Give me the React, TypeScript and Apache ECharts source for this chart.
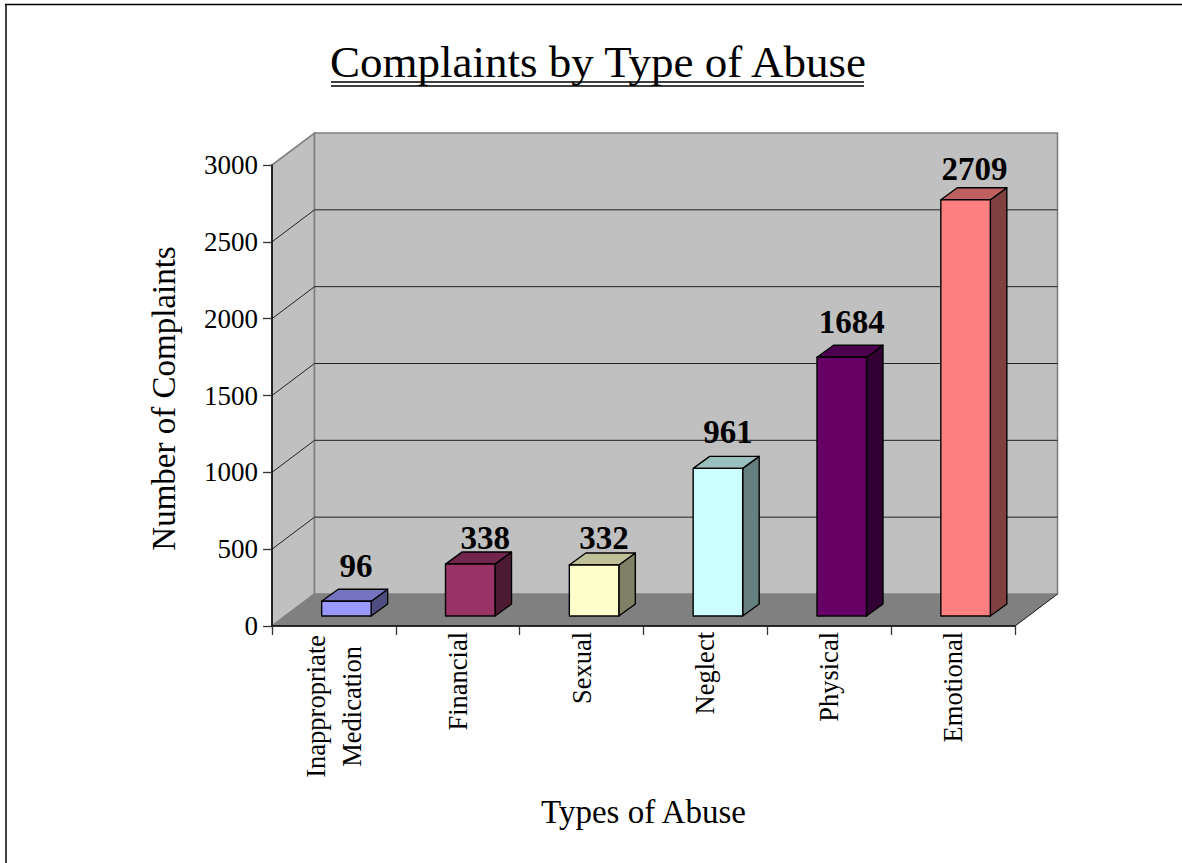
import React, { useEffect, useRef } from "react";
import * as echarts from "echarts";

const categories = ["Inappropriate\nMedication", "Financial", "Sexual", "Neglect", "Physical", "Emotional"];
const complaints = [96, 338, 332, 961, 1684, 2709];
const barColors = ["#9999FF", "#993366", "#FFFFCC", "#CCFFFF", "#660066", "#FF8080"];
const yTicks = [0, 500, 1000, 1500, 2000, 2500, 3000];

const FONT = '"Liberation Serif", "Times New Roman", serif';
const WALL_DX = 42.5;
const WALL_DY = -32;
const BAR_WIDTH = 49.5;
const BAR_DX = 12.5;
const BAR_DY = -10;
const DEPTH_DX = 16.5;
const DEPTH_DY = -12;
// hand-placed value labels in the original: [dx from the bar's front centre, gap above the bar's back edge]
const labelNudges = [[9.5, 12], [15, 3], [10, 3], [10, 13], [10, 12], [9, 7]];

function shade(hex: string, k: number) {
  const n = parseInt(hex.slice(1), 16);
  const c = [(n >> 16) & 255, (n >> 8) & 255, n & 255].map((v) => Math.round(v * k));
  return `rgb(${c[0]},${c[1]},${c[2]})`;
}

const renderWalls = (params: any, api: any) => {
  const { x, y, width, height } = params.coordSys;
  const bottom = y + height;
  const right = x + width;
  const wallStyle = { fill: "#C0C0C0", stroke: "#808080", lineWidth: 1.6 };
  const children: any[] = [
    {
      type: "polygon",
      shape: { points: [[x + WALL_DX, bottom + WALL_DY], [right + WALL_DX, bottom + WALL_DY], [right, bottom], [x, bottom]] },
      style: { fill: "#808080", stroke: "#808080", lineWidth: 1 },
    },
    {
      type: "polygon",
      shape: { points: [[x, y], [x + WALL_DX, y + WALL_DY], [x + WALL_DX, bottom + WALL_DY], [x, bottom]] },
      style: wallStyle,
    },
    {
      type: "rect",
      shape: { x: x + WALL_DX, y: y + WALL_DY, width, height },
      style: wallStyle,
    },
    {
      type: "line",
      shape: { x1: right, y1: bottom, x2: right + WALL_DX, y2: bottom + WALL_DY },
      style: { stroke: "#222222", lineWidth: 1 },
    },
  ];
  yTicks.slice(1, -1).forEach((t) => {
    const py = api.coord([0, t])[1];
    children.push({
      type: "polyline",
      shape: { points: [[x, py], [x + WALL_DX, py + WALL_DY], [right + WALL_DX, py + WALL_DY]] },
      style: { stroke: "#222222", lineWidth: 1, fill: "none" },
    });
  });
  return { type: "group", children };
};

const renderBar = (params: any, api: any) => {
  const i = params.dataIndex;
  const value = api.value(1);
  const [cx, top0] = api.coord([api.value(0), value]);
  const base0 = api.coord([api.value(0), 0])[1];
  const l = cx + BAR_DX - BAR_WIDTH / 2;
  const r = l + BAR_WIDTH;
  const t = top0 + BAR_DY;
  const b = base0 + BAR_DY;
  const color = barColors[i];
  const line = { stroke: "#000000", lineWidth: 1.4, lineJoin: "round" };
  return {
    type: "group",
    children: [
      {
        type: "polygon",
        shape: { points: [[r, t], [r + DEPTH_DX, t + DEPTH_DY], [r + DEPTH_DX, b + DEPTH_DY], [r, b]] },
        style: { fill: shade(color, 0.5), ...line },
      },
      {
        type: "polygon",
        shape: { points: [[l, t], [l + DEPTH_DX, t + DEPTH_DY], [r + DEPTH_DX, t + DEPTH_DY], [r, t]] },
        style: { fill: shade(color, 0.75), ...line },
      },
      {
        type: "rect",
        shape: { x: l, y: t, width: BAR_WIDTH, height: b - t },
        style: { fill: color, ...line },
      },
      {
        type: "text",
        style: {
          text: String(value),
          x: (l + r) / 2 + labelNudges[i][0],
          y: t + DEPTH_DY - labelNudges[i][1] + 5,
          align: "center",
          verticalAlign: "bottom",
          fill: "#000000",
          fontFamily: FONT,
          fontSize: 33,
          fontWeight: "bold",
        },
      },
    ],
  };
};

export default function App() {
  const ref = useRef<HTMLDivElement>(null);
  useEffect(() => {
    if (!ref.current) return;
    const chart = echarts.init(ref.current, undefined, { renderer: "svg" });
    const labelStyle = { align: "center", fontFamily: FONT, fontSize: 26.5, lineHeight: 36, color: "#000000" };
    chart.setOption({
      animation: false,
      backgroundColor: "#FFFFFF",
      textStyle: { fontFamily: FONT, color: "#000000" },
      title: {
        text: "Complaints by Type of Abuse",
        left: 598,
        top: 39,
        padding: 0,
        textAlign: "center",
        textStyle: { fontFamily: FONT, fontSize: 45, fontWeight: "normal", color: "#000000" },
      },
      graphic: [
        { type: "line", shape: { x1: 5, y1: 4.5, x2: 1182, y2: 4.5 }, style: { stroke: "#000000", lineWidth: 1.5 } },
        { type: "line", shape: { x1: 6, y1: 4, x2: 6, y2: 863 }, style: { stroke: "#000000", lineWidth: 1.5 } },
        { type: "line", shape: { x1: 331, y1: 82, x2: 864, y2: 82 }, style: { stroke: "#000000", lineWidth: 1.6 } },
        { type: "line", shape: { x1: 331, y1: 86, x2: 864, y2: 86 }, style: { stroke: "#000000", lineWidth: 1.6 } },
      ],
      grid: { left: 272, right: 167, top: 165, bottom: 237 },
      xAxis: {
        type: "category",
        data: categories,
        z: 5,
        name: "Types of Abuse",
        nameLocation: "middle",
        nameGap: 169,
        nameTextStyle: { fontFamily: FONT, fontSize: 33, color: "#000000" },
        axisLine: { lineStyle: { color: "#000000", width: 1.5 } },
        axisTick: { show: true, length: 9, lineStyle: { color: "#333333", width: 1.3 } },
        axisLabel: {
          rotate: 90,
          interval: 0,
          margin: 6,
          formatter: (v: string) =>
            v.includes("\n") ? v.split("\n").map((s) => `{m|${s}}`).join("\n") : `{a|${v}}`,
          rich: {
            a: labelStyle,
            m: { ...labelStyle, padding: [0, 3, 0, 0] },
          },
        },
      },
      yAxis: {
        type: "value",
        min: 0,
        max: 3000,
        interval: 500,
        z: 5,
        name: "Number of Complaints",
        nameLocation: "middle",
        nameGap: 92,
        nameTextStyle: { fontFamily: FONT, fontSize: 33, color: "#000000", padding: [0, 6, 0, 0] },
        splitLine: { show: false },
        axisLine: { show: true, lineStyle: { color: "#000000", width: 1.5 } },
        axisTick: { show: true, length: 9, lineStyle: { color: "#333333", width: 1.3 } },
        axisLabel: { margin: 14, fontFamily: FONT, fontSize: 27, color: "#000000", formatter: (v: number) => String(v) },
      },
      series: [
        {
          type: "custom",
          name: "walls",
          z: 1,
          silent: true,
          clip: false,
          data: [[0, 0]],
          encode: { x: 0, y: 1 },
          renderItem: renderWalls,
        },
        {
          type: "custom",
          name: "Complaints",
          z: 3,
          clip: false,
          data: complaints.map((v, i) => [i, v]),
          encode: { x: 0, y: 1 },
          renderItem: renderBar,
        },
      ],
    });
    return () => chart.dispose();
  }, []);
  return <div ref={ref} style={{ position: "fixed", left: 0, top: 0, width: 1182, height: 863 }} />;
}
